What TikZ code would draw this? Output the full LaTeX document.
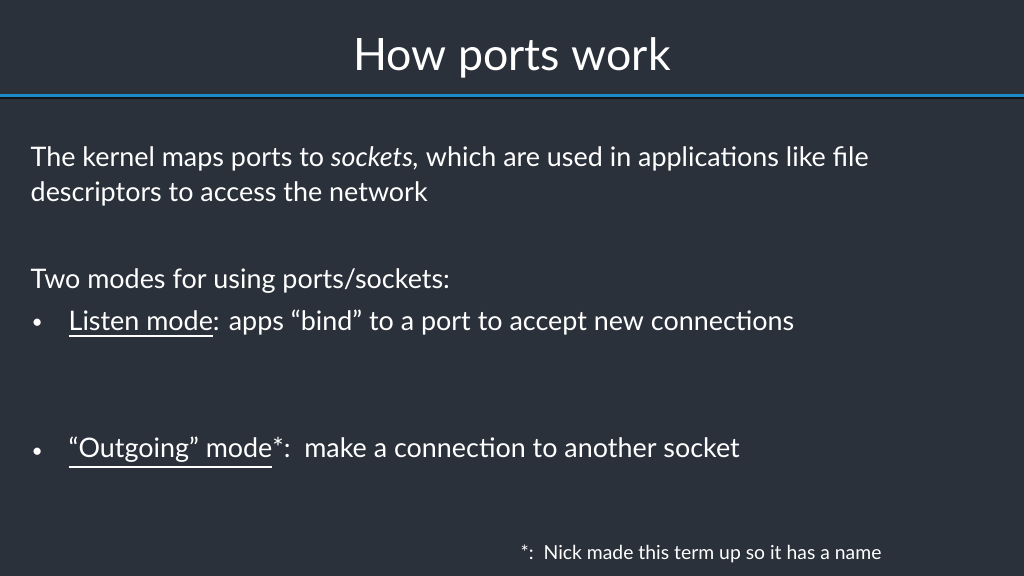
\documentclass[tikz,border=0pt]{standalone}
\usepackage{fontspec}
\setmainfont{Lato}
\definecolor{bg}{HTML}{2B313B}
\definecolor{bl}{HTML}{1E8BC9}
\definecolor{tx}{HTML}{FFFFFF}
\begin{document}
\begin{tikzpicture}[x=0.01cm,y=-0.01cm,
  body/.style={anchor=west,text=tx,font=\fontsize{7.65pt}{9pt}\selectfont,inner sep=0pt}]
\fill[bg] (0,0) rectangle (1024,576);
\useasboundingbox (0,0) rectangle (1024,576);
\fill[bl] (0,94) rectangle (1024,97);
\fill[black!60!bg] (0,97) rectangle (1024,99);
\node[text=tx,font=\fontsize{12.7pt}{14pt}\selectfont] (title) at (512,58) {How ports work};
\node[body] (l1) at (30,159) {The kernel maps ports to \textit{sockets,} which are used in applications like file};
\node[body] (l2) at (30,194) {descriptors to access the network};
\node[body] (l3) at (30,281) {Two modes for using ports/sockets:};
\node[body,font=\fontsize{5.5pt}{6pt}\selectfont] (b1) at (31,324) {•};
\node[body] (t1) at (68,324) {\underline{Listen mode}: apps “bind” to a port to accept new connections};
\node[body,font=\fontsize{5.5pt}{6pt}\selectfont] (b2) at (31,453) {•};
\node[body] (t2) at (68,453) {\underline{“Outgoing” mode}*:\ \ make a connection to another socket};
\node[body,font=\fontsize{5.5pt}{6pt}\selectfont] (fn) at (520,554) {*:\ \ Nick made this term up so it has a name};
\end{tikzpicture}
\end{document}
